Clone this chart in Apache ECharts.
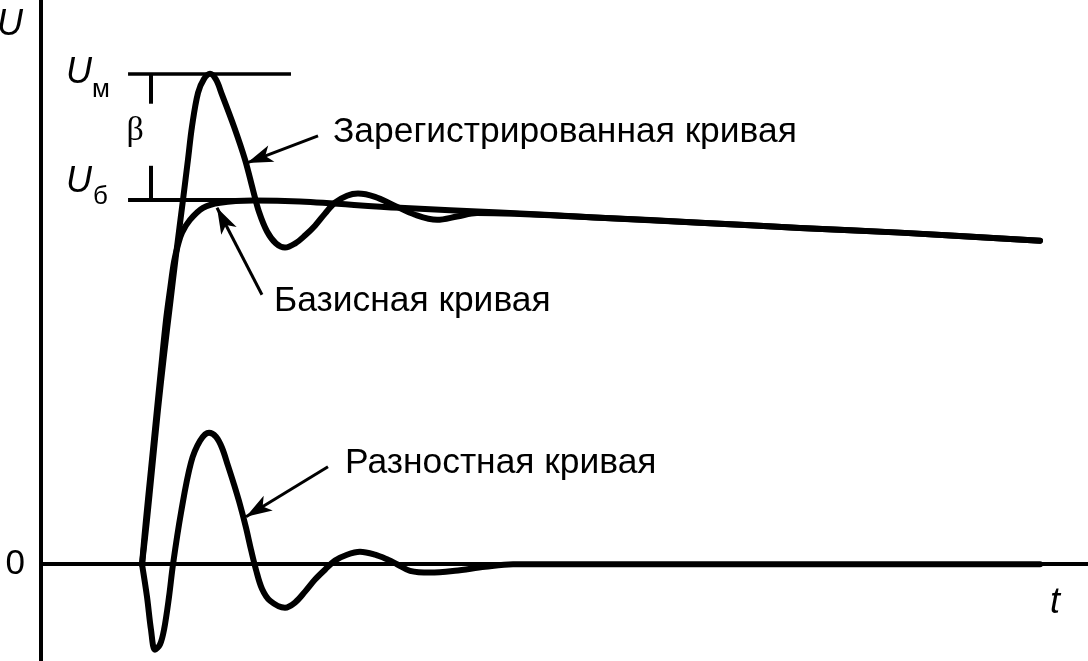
<!DOCTYPE html>
<html>
<head>
<meta charset="utf-8">
<script src="https://cdn.jsdelivr.net/npm/echarts@6/dist/echarts.min.js"></script>
<style>
html,body{margin:0;padding:0;background:#fff;}
#chart{width:1088px;height:661px;}
</style>
</head>
<body>
<div id="chart"></div>
<script>
// ---- data (t, U) ----
const REGISTERED = [
  [10.13,0],[10.63,0.122],[11.13,0.259],[11.73,0.423],[12.34,0.574],[12.94,0.711],
  [13.54,0.847],[14.24,0.998],[14.74,1.108],[15.14,1.198],[15.75,1.291],[16.35,1.329],
  [16.95,1.343],[17.55,1.327],[18.15,1.286],[19.36,1.198],[20.46,1.108],[21.26,1.025],
  [21.86,0.965],[22.67,0.911],[23.57,0.878],[24.47,0.867],[25.47,0.878],[26.47,0.900],
  [27.48,0.927],[28.48,0.960],[29.48,0.990],[30.69,1.009],[31.79,1.015],[33.50,1.006],
  [35.30,0.984],[37.51,0.957],[39.72,0.943],[41.72,0.952],[43.73,0.962],[56.06,0.949],
  [66.09,0.935],[76.12,0.921],[86.15,0.908],[100.19,0.886]
];
const BASELINE = [
  [10.13,0],[10.53,0.122],[11.03,0.259],[11.53,0.396],[12.03,0.533],[12.54,0.669],
  [12.94,0.752],[13.34,0.828],[13.74,0.875],[14.14,0.908],[14.94,0.943],[16.25,0.976],
  [17.95,0.990],[21.26,0.996],[25.97,0.993],[36.00,0.976],[46.03,0.963],[56.06,0.949],
  [66.09,0.935],[76.12,0.921],[86.15,0.908],[100.19,0.886]
];
const DIFFERENCE = [
  [10.13,0],[10.63,-0.089],[11.03,-0.179],[11.43,-0.234],[11.93,-0.220],[12.34,-0.179],
  [12.84,-0.089],[13.24,0],[14.04,0.141],[15.04,0.278],[15.95,0.338],[16.85,0.360],
  [17.55,0.349],[18.15,0.319],[18.75,0.270],[19.36,0.218],[19.96,0.163],[20.56,0.100],
  [21.06,0.040],[21.56,-0.015],[22.16,-0.067],[22.97,-0.100],[24.47,-0.119],[25.47,-0.105],
  [26.48,-0.075],[27.48,-0.042],[28.48,-0.015],[29.49,0.010],[30.69,0.026],[31.99,0.034],
  [33.50,0.026],[34.80,0.012],[35.70,0],[37.01,-0.018],[39.01,-0.023],[41.52,-0.018],
  [44.53,-0.007],[47.34,0],[100.19,0]
];
const U_M = 1.343;        // peak level Uм
const U_B = 0.998;        // base level Uб
const Y_TICKS = [0];
const Y_TICK_LABELS = ['0'];
const CAPTIONS = ['Зарегистрированная кривая', 'Базисная кривая', 'Разностная кривая'];
const AXIS_NAMES = { x: 't', y: 'U' };

// ---- annotation geometry (data units) ----
const CAPTION_AT = [[29.28,1.182],[23.37,0.720],[30.49,0.276]];
const ARROWS = [
  [[27.78,1.173],[20.66,1.099]],
  [[22.16,0.738],[17.65,0.976]],
  [[28.78,0.267],[20.56,0.130]]
];
const LEVEL_X = [8.73, 25.07, 21.26];
const BRACKET_X = 10.98;
const BRACKET_GAP = [1.261, 1.091];
const T_LABEL_AT = [101.19, -0.106];

const FONT = "'Liberation Sans', Arial, Helvetica, sans-serif";
const BLACK = '#000';

const chart = echarts.init(document.getElementById('chart'), null, {renderer:'canvas'});

const curveStyle = {color: BLACK, width: 6, cap: 'round', join: 'round'};
function curve(name, data) {
  return {
    name, type: 'line', data, showSymbol: false, symbol: 'none',
    smooth: 0.35, clip: false,
    lineStyle: curveStyle, silent: true
  };
}

const markLines = [];
ARROWS.forEach(a => markLines.push([
  {coord: a[0], symbol: 'none', lineStyle: {width: 3, color: BLACK, type: 'solid'}},
  {coord: a[1], symbol: 'arrow', symbolSize: [13, 26]}
]));
markLines.push([{coord: [LEVEL_X[0], U_M], lineStyle: {width: 3.5, color: BLACK, type: 'solid'}}, {coord: [LEVEL_X[1], U_M]}]);
markLines.push([{coord: [LEVEL_X[0], U_B], lineStyle: {width: 4, color: BLACK, type: 'solid'}}, {coord: [LEVEL_X[2], U_B]}]);
markLines.push([{coord: [BRACKET_X, U_M], lineStyle: {width: 4, color: BLACK, type: 'solid'}}, {coord: [BRACKET_X, BRACKET_GAP[0]]}]);
markLines.push([{coord: [BRACKET_X, BRACKET_GAP[1]], lineStyle: {width: 4, color: BLACK, type: 'solid'}}, {coord: [BRACKET_X, U_B]}]);

function txt(coord, text, size, extra) {
  return {
    coord, symbol: 'circle', symbolSize: 0,
    label: Object.assign({
      show: true, position: [0, 0], formatter: text, color: BLACK,
      fontFamily: FONT, fontSize: size, align: 'left', verticalAlign: 'middle'
    }, extra || {})
  };
}
const markPoints = CAPTIONS.map((c, i) => txt(CAPTION_AT[i], c, 35.4));
markPoints.push(txt([2.51, 1.346], 'U', 36, {fontStyle: 'italic'}));
markPoints.push(txt([5.11, 1.300], 'м', 26));
markPoints.push(txt([2.51, 1.048], 'U', 36, {fontStyle: 'italic'}));
markPoints.push(txt([5.22, 1.005], 'б', 26));
markPoints.push(txt([9.43, 1.185], 'β', 34, {align: 'center', fontFamily: "'Liberation Serif', 'Times New Roman', serif"}));
markPoints.push(txt(T_LABEL_AT, AXIS_NAMES.x, 36, {fontStyle: 'italic'}));

const option = {
  animation: false,
  backgroundColor: '#fff',
  grid: {left: 41, right: 0, top: 0, bottom: 0, containLabel: false, outerBoundsMode: 'none'},
  xAxis: {
    type: 'value', min: 0, max: 105,
    axisLine: {show: true, onZero: true, lineStyle: {color: BLACK, width: 4}},
    axisTick: {show: false}, axisLabel: {show: false}, splitLine: {show: false}
  },
  yAxis: {
    type: 'value', min: -0.265, max: 1.545, interval: 0.265,
    name: AXIS_NAMES.y, nameLocation: 'end', nameGap: -25, nameMoveOverlap: false,
    nameTextStyle: {fontFamily: FONT, fontSize: 36, fontStyle: 'italic', color: BLACK,
      align: 'right', verticalAlign: 'middle', padding: [0, 18, 0, 0]},
    axisLine: {show: true, onZero: true, lineStyle: {color: BLACK, width: 4}},
    axisTick: {show: false}, splitLine: {show: false},
    axisLabel: {
      show: true, margin: 16, color: BLACK, fontFamily: FONT, fontSize: 35,
      showMinLabel: false, showMaxLabel: false,
      formatter: v => {
        const i = Y_TICKS.findIndex(k => Math.abs(k - v) < 1e-6);
        return i >= 0 ? Y_TICK_LABELS[i] : '';
      }
    }
  },
  series: [
    curve('Базисная кривая', BASELINE),
    curve('Зарегистрированная кривая', REGISTERED),
    curve('Разностная кривая', DIFFERENCE),
    {
      name: 'annotations', type: 'line', data: [], silent: true,
      markLine: {silent: true, animation: false, symbol: ['none', 'none'], label: {show: false},
        lineStyle: {color: BLACK, type: 'solid'}, emphasis: {disabled: true}, data: markLines},
      markPoint: {silent: true, animation: false, data: markPoints}
    }
  ]
};
chart.setOption(option);
</script>
</body>
</html>
